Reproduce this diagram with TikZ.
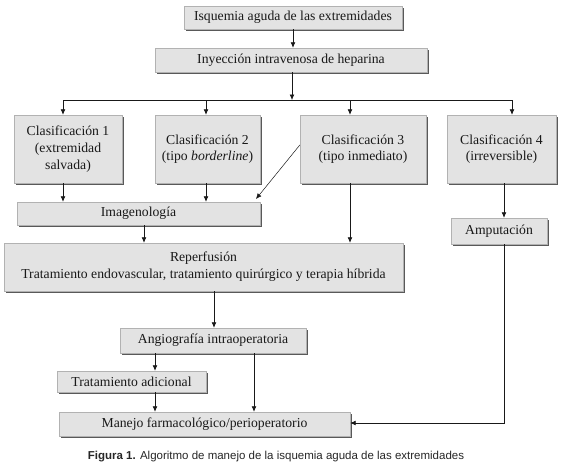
\documentclass[tikz,border=0pt]{standalone}
\usepackage{fontspec}
\setmainfont{Liberation Serif}
\newfontfamily\capfont{Liberation Sans}
\usetikzlibrary{arrows.meta,shadows}
\begin{document}
\begin{tikzpicture}[x=1pt,y=-1pt,
  box/.style={draw=black!30, line width=0.4pt, fill=black!11,
    drop shadow={shadow xshift=1.6pt, shadow yshift=-1.6pt, fill=black!65, opacity=1},
    align=center, inner sep=0pt, text=black!90,
    font=\fontsize{13.7}{16.7}\selectfont},
  arr/.style={-{Latex[length=5.5pt,width=4.8pt]}, line width=0.6pt, draw=black!90},
  ln/.style={line width=0.6pt, draw=black!90}]
\useasboundingbox (0,0) rectangle (563,472);
\node[box, minimum width=218pt, minimum height=23pt] (isq) at (293,17.5) {Isquemia aguda de las extremidades};
\node[box, minimum width=272pt, minimum height=24pt] (hep) at (291,60) {Inyección intravenosa de heparina};
\node[box, minimum width=108pt, minimum height=68pt] (c1) at (68,149) {Clasificación 1\\(extremidad\\salvada)};
\node[box, minimum width=105pt, minimum height=68pt] (c2) at (207.5,149) {Clasificación 2\\(tipo \textit{borderline})};
\node[box, minimum width=126pt, minimum height=68pt] (c3) at (363,149) {Clasificación 3\\(tipo inmediato)};
\node[box, minimum width=109pt, minimum height=68pt] (c4) at (501.5,149) {Clasificación 4\\(irreversible)};
\node[box, minimum width=243pt, minimum height=23pt] (img) at (138.5,213.5) {Imagenología};
\node[box, minimum width=96pt, minimum height=26pt] (amp) at (499,231) {Amputación};
\node[box, minimum width=399pt, minimum height=48pt] (rep) at (203.5,267) {Reperfusión\\Tratamiento endovascular, tratamiento quirúrgico y terapia híbrida};
\node[box, minimum width=186pt, minimum height=25pt] (ang) at (213,340.5) {Angiografía intraoperatoria};
\node[box, minimum width=149pt, minimum height=21pt] (tra) at (131.5,381.5) {Tratamiento adicional};
\node[box, minimum width=291pt, minimum height=24pt] (man) at (204.5,424) {Manejo farmacológico/perioperatorio};
\node[font=\capfont\fontsize{11.5}{13}\selectfont, text=black!85] (cap) at (276,457) {\textbf{Figura 1.} Algoritmo de manejo de la isquemia aguda de las extremidades};
% connectors
\coordinate (j) at (292,100);
\coordinate (jl) at (63,100);
\coordinate (jr) at (512,100);
\draw[arr] (isq.south -| 293,0) -- (hep.north -| 293,0);
\draw[arr] (hep.south -| j) -- (j);
\draw[ln] (jl) -- (jr);
\draw[arr] (jl) -- (jl |- c1.north);
\draw[arr] (206,100) -- (c2.north -| 206,0);
\draw[arr] (350,100) -- (c3.north -| 350,0);
\draw[arr] (jr) -- (jr |- c4.north);
\draw[arr] (c1.south -| 63,0) -- (img.north -| 63,0);
\draw[arr] (c2.south -| 206,0) -- (img.north -| 206,0);
\draw[arr, line width=0.5pt] (c3.west |- 0,145) -- (256,199);
\draw[arr] (c3.south -| 350,0) -- (rep.north -| 350,0);
\draw[arr] (c4.south -| 504,0) -- (amp.north -| 504,0);
\draw[arr] (img.south -| 144,0) -- (rep.north -| 144,0);
\draw[arr] (rep.south -| 214,0) -- (ang.north -| 214,0);
\draw[arr] (ang.south -| 155,0) -- (tra.north -| 155,0);
\draw[arr] (tra.south -| 155,0) -- (man.north -| 155,0);
\draw[arr] (ang.south -| 254,0) -- (man.north -| 254,0);
\draw[arr] (amp.south -| 504,0) -- (504,423) -- (man.east |- 0,423);
\end{tikzpicture}
\end{document}
